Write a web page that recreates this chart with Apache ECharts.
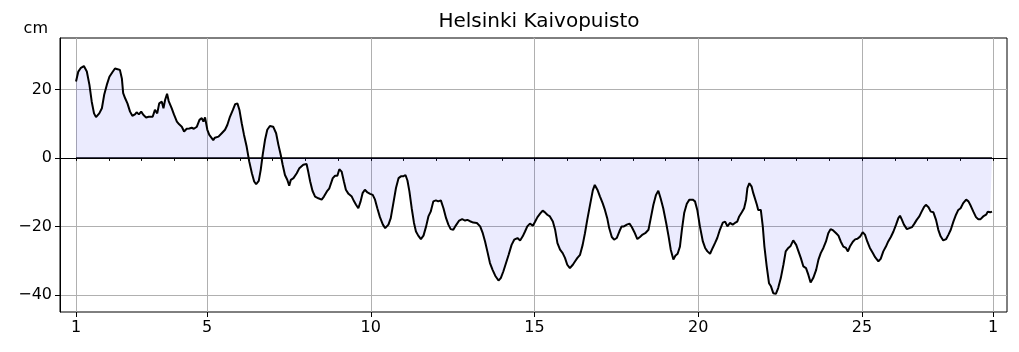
<!DOCTYPE html>
<html>
<head>
<meta charset="utf-8">
<script src="https://cdn.jsdelivr.net/npm/echarts@6/dist/echarts.min.js"></script>
<style>
  html, body { margin: 0; padding: 0; background: #fff; }
  #chart { width: 1019px; height: 352px; }
</style>
</head>
<body>
<div id="chart"></div>
<script>
// Sea level, Helsinki Kaivopuisto (day of month, cm)
var days = [
  1.00, 1.07, 1.15, 1.24, 1.33, 1.41, 1.48, 1.55, 1.61, 1.71, 1.79, 1.86, 1.94,
  2.02, 2.11, 2.19, 2.27, 2.34, 2.40, 2.44, 2.50, 2.57, 2.65, 2.72, 2.80, 2.85, 2.92, 2.99,
  3.06, 3.14, 3.22, 3.28, 3.34, 3.41, 3.48, 3.54, 3.62, 3.67, 3.72, 3.78, 3.83, 3.92, 3.99,
  4.08, 4.15, 4.23, 4.30, 4.38, 4.46, 4.53, 4.60, 4.69, 4.77, 4.84, 4.89, 4.94,
  5.01, 5.07, 5.11, 5.19, 5.24, 5.35, 5.45, 5.55, 5.62, 5.70, 5.79, 5.86, 5.93, 5.99,
  6.06, 6.13, 6.21, 6.29, 6.37, 6.44, 6.50, 6.58, 6.64, 6.70, 6.77, 6.84, 6.92,
  7.02, 7.11, 7.18, 7.25, 7.31, 7.38, 7.45, 7.51, 7.56, 7.64, 7.74, 7.82, 7.94,
  8.04, 8.09, 8.15, 8.22, 8.30, 8.40, 8.50, 8.57, 8.66, 8.73, 8.84, 8.91, 8.98,
  9.04, 9.11, 9.18, 9.24, 9.32, 9.42, 9.49, 9.55, 9.62, 9.69, 9.75, 9.82, 9.90, 9.98,
  10.06, 10.13, 10.20, 10.28, 10.37, 10.44, 10.54, 10.61, 10.69, 10.77, 10.85, 10.92, 10.99,
  11.06, 11.12, 11.18, 11.25, 11.32, 11.38, 11.45, 11.53, 11.61, 11.69, 11.76, 11.83, 11.91, 11.99,
  12.06, 12.14, 12.22, 12.30, 12.37, 12.44, 12.52, 12.60, 12.70, 12.79, 12.88, 12.95,
  13.03, 13.13, 13.24, 13.34, 13.42, 13.49, 13.56, 13.64, 13.72, 13.80, 13.90, 13.97,
  14.05, 14.13, 14.21, 14.30, 14.38, 14.48, 14.56, 14.64, 14.71, 14.78, 14.86, 14.95,
  15.02, 15.09, 15.17, 15.25, 15.32, 15.39, 15.47, 15.56, 15.63, 15.70, 15.78, 15.86, 15.93,
  16.00, 16.08, 16.17, 16.24, 16.31, 16.39, 16.47, 16.54, 16.61, 16.70, 16.78, 16.84, 16.92,
  17.00, 17.08, 17.15, 17.22, 17.28, 17.36, 17.43, 17.51, 17.59, 17.66, 17.73, 17.82, 17.90, 17.97,
  18.05, 18.14, 18.22, 18.30, 18.38, 18.48, 18.55, 18.63, 18.71, 18.78, 18.85, 18.93,
  19.02, 19.09, 19.16, 19.24, 19.30, 19.37, 19.44, 19.50, 19.57, 19.65, 19.73, 19.83, 19.90, 19.97,
  20.05, 20.14, 20.21, 20.28, 20.36, 20.44, 20.51, 20.58, 20.66, 20.75, 20.82, 20.89, 20.97,
  21.05, 21.12, 21.19, 21.25, 21.33, 21.40, 21.46, 21.50, 21.56, 21.63, 21.68, 21.73, 21.79, 21.83, 21.91, 21.97,
  22.02, 22.09, 22.16, 22.22, 22.29, 22.37, 22.44, 22.52, 22.60, 22.67, 22.75, 22.82, 22.90, 22.99,
  23.06, 23.13, 23.21, 23.29, 23.36, 23.43, 23.51, 23.60, 23.67, 23.74, 23.82, 23.90, 23.97,
  24.04, 24.12, 24.21, 24.28, 24.35, 24.43, 24.51, 24.57, 24.63, 24.72, 24.79, 24.86, 24.94,
  25.02, 25.09, 25.16, 25.24, 25.33, 25.40, 25.50, 25.57, 25.65, 25.73, 25.80, 25.88, 25.96,
  26.04, 26.11, 26.16, 26.21, 26.28, 26.37, 26.45, 26.53, 26.60, 26.67, 26.75, 26.82, 26.89, 26.95,
  27.03, 27.10, 27.18, 27.26, 27.33, 27.40, 27.48, 27.57, 27.64, 27.71, 27.79, 27.87, 27.94,
  28.01, 28.09, 28.18, 28.25, 28.32, 28.40, 28.48, 28.55, 28.62, 28.70, 28.79, 28.84, 28.91, 28.97
];
var level = [
  22.3, 25.2, 26.3, 26.8, 25.2, 21.3, 16.4, 13.0, 11.9, 13.0, 14.5, 18.4, 21.3,
  23.7, 25.0, 26.1, 25.9, 25.7, 23.2, 18.9, 17.4, 15.9, 13.5, 12.3, 12.7, 13.3, 12.7, 13.5,
  12.5, 11.8, 12.0, 12.5, 12.0, 14.0, 13.0, 15.9, 16.4, 14.5, 16.9, 18.7, 16.6, 14.5, 12.7,
  10.6, 9.8, 9.1, 7.7, 8.5, 8.6, 8.8, 8.5, 9.1, 11.1, 11.6, 10.6, 11.8,
  8.2, 6.7, 6.9, 5.2, 5.9, 6.2, 7.2, 8.2, 9.6, 12.0, 14.0, 15.7, 15.9, 14.0,
  10.1, 6.7, 3.3, -1.1, -4.5, -6.9, -7.7, -6.7, -3.5, 0.9, 5.2, 8.2, 9.3,
  9.1, 7.2, 3.8, 0.9, -2.0, -5.0, -6.4, -8.1, -6.4, -5.9, -4.5, -3.0, -2.0,
  -1.8, -4.0, -6.9, -9.6, -11.3, -11.8, -12.2, -11.3, -9.8, -9.0, -5.9, -5.2, -5.2,
  -3.3, -4.0, -6.9, -9.3, -10.5, -11.3, -12.7, -13.7, -14.7, -12.7, -10.3, -9.3, -10.1, -10.5,
  -10.8, -12.2, -14.7, -17.3, -19.5, -20.5, -19.5, -17.6, -13.2, -8.8, -5.9, -5.4, -5.4,
  -5.0, -6.6, -9.8, -14.7, -19.0, -21.5, -22.7, -23.7, -22.7, -20.0, -17.1, -15.7, -12.7, -12.4,
  -12.7, -12.4, -14.7, -17.6, -19.5, -20.8, -21.0, -19.7, -18.3, -17.9, -18.3, -18.1,
  -18.5, -18.9, -19.0, -20.0, -22.0, -24.4, -27.3, -30.7, -32.7, -34.4, -35.8, -35.1,
  -33.1, -30.7, -28.3, -25.4, -23.9, -23.4, -24.1, -22.9, -21.5, -20.0, -19.2, -19.8,
  -18.6, -17.3, -16.3, -15.4, -15.9, -16.6, -17.1, -18.6, -21.0, -24.9, -26.8, -27.8, -29.2,
  -31.2, -32.2, -31.2, -30.2, -29.2, -28.3, -25.4, -22.0, -18.1, -13.5, -9.5, -7.9, -9.3,
  -11.3, -13.2, -15.2, -17.6, -20.5, -23.1, -23.9, -23.4, -21.5, -20.0, -20.0, -19.5, -19.2, -20.2,
  -21.7, -23.7, -23.1, -22.4, -22.0, -21.0, -17.6, -13.7, -10.8, -9.6, -11.8, -14.7,
  -19.0, -22.7, -26.8, -29.7, -28.6, -28.0, -25.9, -21.0, -16.1, -13.4, -12.2, -12.2, -12.7, -15.2,
  -20.0, -24.4, -26.3, -27.3, -28.0, -26.3, -24.9, -23.4, -21.0, -18.9, -18.6, -20.0, -19.0,
  -19.5, -19.0, -18.6, -17.1, -15.9, -14.7, -12.2, -8.8, -7.4, -8.4, -10.3, -10.1, -13.7, -15.2, -15.2, -20.0,
  -25.9, -31.7, -36.6, -37.5, -39.5, -39.7, -38.0, -35.1, -31.2, -27.3, -26.3, -25.7, -24.1, -25.4,
  -27.3, -29.2, -31.7, -32.2, -34.1, -36.4, -35.1, -32.7, -29.7, -27.8, -26.3, -24.4, -22.0,
  -20.8, -21.2, -22.0, -22.7, -24.4, -25.9, -26.3, -27.3, -25.9, -24.5, -23.8, -23.6, -23.0,
  -21.7, -22.4, -24.4, -26.3, -27.8, -29.0, -30.2, -29.5, -27.3, -25.9, -24.4, -23.1, -21.5,
  -19.5, -17.6, -16.9, -17.9, -19.5, -20.8, -20.5, -20.2, -19.2, -18.1, -17.1, -15.7, -14.4, -13.7,
  -14.4, -15.7, -15.9, -18.1, -21.0, -22.9, -24.1, -23.7, -22.4, -21.0, -18.6, -16.6, -15.2,
  -14.7, -13.2, -12.2, -12.7, -14.0, -15.7, -17.3, -17.9, -17.9, -17.1, -16.6, -15.7, -15.9, -15.7
];
var dayTicks = [1, 2, 3, 4, 5, 6, 7, 8, 9, 10, 11, 12, 13, 14, 15, 16, 17, 18, 19, 20,
  21, 22, 23, 24, 25, 26, 27, 28, 29];
var dayLabels = [1, 5, 10, 15, 20, 25, 29];
var levelTicks = [-40, -20, 0, 20];

(function() {
  var ink = '#000';
  var gridColor = '#b0b0b0';
  var font = 'DejaVu Sans';

  var seriesData = days.map(function(d, i) { return [d, level[i]]; });
  var zeroData = [[days[0], 0], [days[days.length - 1], 0]];

  var chart = echarts.init(document.getElementById('chart'), null, { renderer: 'canvas' });
  chart.setOption({
    animation: false,
    title: {
      text: 'Helsinki Kaivopuisto',
      left: 534,
      textAlign: 'center',
      top: 7,
      textStyle: { color: ink, fontSize: 20, fontWeight: 'normal', fontFamily: font }
    },
    grid: {
      left: 60, right: 12, top: 38, bottom: 40,
      show: true, borderColor: ink, borderWidth: 1, backgroundColor: 'transparent'
    },
    xAxis: [
      {
        type: 'value',
        min: 0.511, max: 29.427,
        axisLine: { show: true, lineStyle: { color: ink, width: 1 } },
        axisTick: { show: true, customValues: dayTicks, length: 3, lineStyle: { color: ink } },
        axisLabel: { show: false },
        splitLine: { show: false }
      },
      {
        type: 'value',
        position: 'bottom',
        min: 0.511, max: 29.427,
        axisLine: { show: false },
        axisTick: { show: true, customValues: dayLabels, length: 5, lineStyle: { color: ink } },
        axisLabel: {
          show: true, customValues: dayLabels, margin: 8,
          color: ink, fontSize: 16, fontFamily: font,
          formatter: function(v) { return v === 29 ? '1' : String(v); }
        },
        splitLine: { show: true, lineStyle: { color: gridColor, width: 1 } }
      }
    ],
    yAxis: {
      type: 'value',
      min: -45, max: 35,
      name: 'cm',
      nameLocation: 'end',
      nameGap: 1,
      nameTextStyle: { color: ink, fontSize: 16, fontFamily: font, align: 'right', padding: [0, 12, 0, 0] },
      axisLine: { show: true, lineStyle: { color: ink, width: 1 } },
      axisTick: { show: true, customValues: levelTicks, length: 5, lineStyle: { color: ink } },
      axisLabel: {
        customValues: levelTicks, margin: 8,
        color: ink, fontSize: 16, fontFamily: font,
        formatter: function(v) { return v < 0 ? '\u2212' + Math.abs(v) : String(v); }
      },
      splitLine: { show: true, lineStyle: { color: gridColor, width: 1 } }
    },
    series: [
      {
        name: 'level',
        type: 'line',
        xAxisIndex: 0,
        data: seriesData,
        showSymbol: false,
        lineStyle: { color: ink, width: 2 },
        areaStyle: { color: 'rgba(0,0,240,0.11)', origin: 0 },
        z: 3
      },
      {
        name: 'zero',
        type: 'line',
        xAxisIndex: 0,
        data: zeroData,
        showSymbol: false,
        lineStyle: { color: ink, width: 1.5 },
        z: 2
      }
    ]
  });

  window.addEventListener('resize', function() { chart.resize(); });
})();
</script>
</body>
</html>
